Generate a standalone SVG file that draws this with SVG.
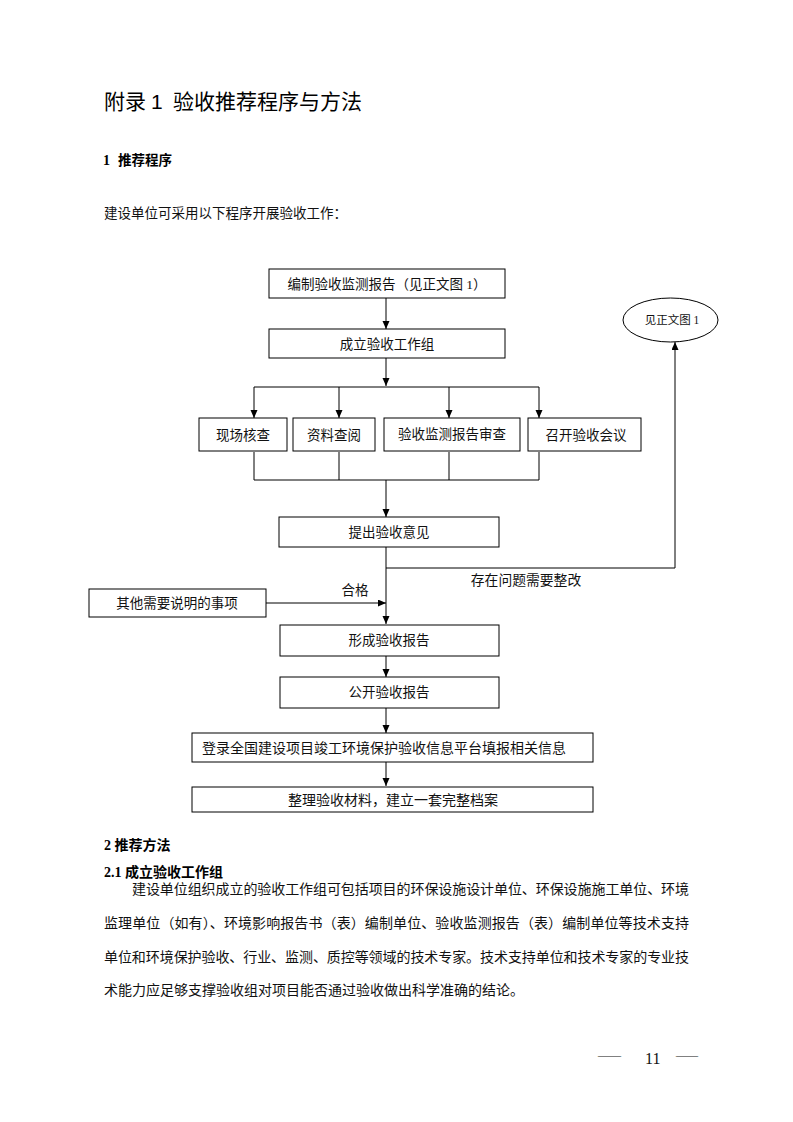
<svg xmlns="http://www.w3.org/2000/svg" width="793" height="1122" viewBox="0 0 793 1122">
<style>
.bg{fill:#fff}
.box{fill:#fff;stroke:#000;stroke-width:1}
.t{font-family:"Liberation Serif","Noto Sans CJK SC",serif;font-size:13.5px;fill:#111;text-anchor:middle;dominant-baseline:central}
.body{font-family:"Liberation Serif","Noto Sans CJK SC",serif;font-size:14px;fill:#111}
.h{font-family:"Liberation Serif","Noto Sans CJK SC",serif;font-size:14px;font-weight:bold;fill:#000}
.title{font-family:"Liberation Sans","Noto Sans CJK SC",sans-serif;font-size:21px;fill:#000}
.c{fill:none;stroke:#000;stroke-width:1}
.a{marker-end:url(#arr)}
</style>
<defs>
<marker id="arr" markerUnits="userSpaceOnUse" markerWidth="9" markerHeight="8" refX="8" refY="3.5" orient="auto">
<path d="M0,0 L8,3.5 L0,7 z" fill="#000"/>
</marker>
</defs>
<rect class="bg" x="0" y="0" width="793" height="1122"/>

<text class="title" x="104" y="109">附录</text>
<text class="title" x="151" y="109">1</text>
<text class="title" x="173" y="109" textLength="189" lengthAdjust="spacing">验收推荐程序与方法</text>
<text class="h" x="103" y="165">1</text>
<text class="h" x="118" y="165" style="font-size:13.5px">推荐程序</text>
<text class="body" x="104" y="218" style="font-size:13.5px">建设单位可采用以下程序开展验收工作：</text>

<g id="connectors">
<path class="c a" d="M386,298 V329"/>
<path class="c a" d="M386,358 V386"/>
<path class="c" d="M254,387 H539"/>
<path class="c a" d="M254,387 V418"/>
<path class="c a" d="M339,387 V418"/>
<path class="c a" d="M449,387 V418"/>
<path class="c a" d="M539,387 V418"/>
<path class="c" d="M254,452 V480 M339,452 V480 M449,452 V480 M539,452 V480 M254,480 H539"/>
<path class="c a" d="M386,480 V517"/>
<path class="c a" d="M386,547 V624"/>
<path class="c a" d="M386,568 H675 V342"/>
<path class="c a" d="M265,603 H386"/>
<path class="c a" d="M386,656 V677"/>
<path class="c a" d="M386,708 V733"/>
<path class="c a" d="M386,762 V786"/>
</g>

<g id="n1"><rect class="box" x="269" y="269" width="236" height="29"/><text class="t" x="387" y="284">编制验收监测报告（见正文图 1）</text></g>
<g id="n2"><rect class="box" x="269" y="329" width="236" height="29"/><text class="t" x="387" y="344">成立验收工作组</text></g>
<g id="n_ref"><ellipse class="box" cx="670.5" cy="320" rx="47.5" ry="22"/><text class="t" x="672" y="320" style="font-size:11.5px">见正文图 1</text></g>
<g id="n3"><rect class="box" x="199" y="418" width="88" height="33"/><text class="t" x="243" y="435">现场核查</text></g>
<g id="n4"><rect class="box" x="293" y="418" width="82" height="33"/><text class="t" x="334" y="435">资料查阅</text></g>
<g id="n5"><rect class="box" x="384" y="418" width="136" height="33"/><text class="t" x="452" y="434">验收监测报告审查</text></g>
<g id="n6"><rect class="box" x="528" y="418" width="113" height="33"/><text class="t" x="586" y="435">召开验收会议</text></g>
<g id="n7"><rect class="box" x="279" y="517" width="220" height="30"/><text class="t" x="389" y="532">提出验收意见</text></g>
<g id="lbl1"><text class="t" x="526" y="580" style="font-size:13.8px">存在问题需要整改</text></g>
<g id="lbl2"><text class="t" x="355" y="590">合格</text></g>
<g id="n8"><rect class="box" x="89" y="589" width="177" height="28"/><text class="t" x="177" y="603">其他需要说明的事项</text></g>
<g id="n9"><rect class="box" x="280" y="625" width="219" height="31"/><text class="t" x="389" y="640">形成验收报告</text></g>
<g id="n10"><rect class="box" x="280" y="677" width="219" height="31"/><text class="t" x="389" y="692">公开验收报告</text></g>
<g id="n11"><rect class="box" x="192" y="733" width="401" height="29"/><text class="t" x="384" y="748" style="font-size:14px">登录全国建设项目竣工环境保护验收信息平台填报相关信息</text></g>
<g id="n12"><rect class="box" x="192" y="787" width="401" height="25"/><text class="t" x="393" y="800" style="font-size:14px">整理验收材料，建立一套完整档案</text></g>

<text class="h" x="104" y="850">2 推荐方法</text>
<text class="h" x="104" y="877">2.1 成立验收工作组</text>
<text class="body" x="132" y="894" textLength="557" lengthAdjust="spacing">建设单位组织成立的验收工作组可包括项目的环保设施设计单位、环保设施施工单位、环境</text>
<text class="body" x="104" y="928" textLength="585" lengthAdjust="spacing">监理单位（如有）、环境影响报告书（表）编制单位、验收监测报告（表）编制单位等技术支持</text>
<text class="body" x="104" y="962" textLength="585" lengthAdjust="spacing">单位和环境保护验收、行业、监测、质控等领域的技术专家。技术支持单位和技术专家的专业技</text>
<text class="body" x="104" y="995">术能力应足够支撑验收组对项目能否通过验收做出科学准确的结论。</text>

<text class="body" x="598" y="1060" style="font-size:15px" textLength="23" lengthAdjust="spacingAndGlyphs">—</text>
<text class="body" x="645" y="1064" style="font-size:16px">11</text>
<text class="body" x="676" y="1060" style="font-size:15px" textLength="22" lengthAdjust="spacingAndGlyphs">—</text>
</svg>
